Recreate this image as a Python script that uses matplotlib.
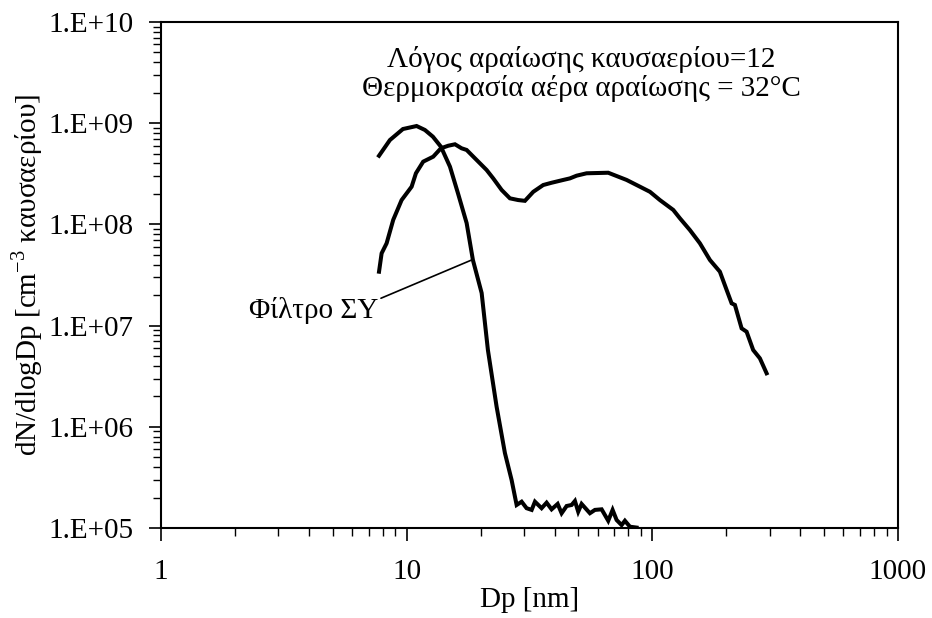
import numpy as np
import matplotlib
matplotlib.use('Agg')
import matplotlib.pyplot as plt
from matplotlib.ticker import FixedLocator, FuncFormatter, LogLocator, NullFormatter

plt.rcParams['font.family'] = ['Liberation Serif', 'DejaVu Serif']
plt.rcParams['mathtext.fontset'] = 'custom'
plt.rcParams['mathtext.rm'] = 'Liberation Serif'

# filter curve (steep drop after ~11 nm)
filt_dp = [7.72, 8.55, 9.66, 10.98, 11.87, 12.79, 13.79, 15.01, 16.17, 17.55,
           18.61, 20.20, 21.42, 23.24, 25.12, 26.75, 27.6, 28.04,
           29.38, 30.78, 32.28, 33.29, 35.43, 37.13, 38.91, 41.18, 42.74,
           44.80, 46.95, 48.42, 49.93, 51.54, 55.72, 58.40, 62.19, 66.16,
           68.93, 71.57, 74.99, 77.35, 81.08, 86.3]
filt_n = [4.77e8, 6.82e8, 8.76e8, 9.38e8, 8.57e8, 7.36e8, 5.86e8, 3.72e8, 2.04e8, 1.03e8,
          4.45e7, 2.10e7, 5.74e6, 1.58e6, 5.51e5, 2.98e5, 2.04e5, 1.69e5,
          1.82e5, 1.57e5, 1.51e5, 1.82e5, 1.57e5, 1.78e5, 1.53e5, 1.73e5, 1.40e5,
          1.65e5, 1.69e5, 1.85e5, 1.45e5, 1.73e5, 1.40e5, 1.51e5, 1.53e5, 1.18e5,
          1.51e5, 1.20e5, 1.07e5, 1.18e5, 1.03e5, 1.01e5]

# second curve (peak ~15 nm, accumulation mode ~60 nm)
raw_dp = [7.72, 7.91, 8.29, 8.82, 9.54, 10.48, 10.91, 11.68, 12.83, 13.79,
          14.77, 15.73, 16.74, 17.55, 18.97, 21.16, 22.51, 24.36, 26.33, 28.46,
          30.30, 32.77, 35.97, 38.91, 43.39, 46.21, 49.19, 54.02, 66.16, 78.6,
          89.0, 97.8, 107.4, 121.7, 129.5, 142.2, 156.2, 171.6, 188.4, 200.7,
          210.3, 216.9, 230.9, 242.0, 257.4, 274.1, 291.9]
raw_n = [3.41e7, 5.18e7, 6.51e7, 1.11e8, 1.74e8, 2.36e8, 3.20e8, 4.17e8, 4.67e8, 5.65e8,
         5.99e8, 6.19e8, 5.65e8, 5.44e8, 4.50e8, 3.45e8, 2.85e8, 2.19e8, 1.81e8, 1.74e8,
         1.71e8, 2.10e8, 2.45e8, 2.58e8, 2.75e8, 2.85e8, 3.03e8, 3.20e8, 3.24e8, 2.75e8,
         2.36e8, 2.10e8, 1.74e8, 1.39e8, 1.15e8, 8.80e7, 6.51e7, 4.45e7, 3.41e7, 2.25e7,
         1.66e7, 1.60e7, 9.40e6, 8.70e6, 5.74e6, 4.75e6, 3.38e6]

yticks = [1e5, 1e6, 1e7, 1e8, 1e9, 1e10]
xticks = [1, 10, 100, 1000]

fig = plt.figure(figsize=(9.32, 6.18), dpi=100)
ax = fig.add_axes([0.1727, 0.1456, 0.7908, 0.8188])

ax.plot(filt_dp, filt_n, color='black', lw=2.9, solid_joinstyle='miter')
ax.plot(raw_dp, raw_n, color='black', lw=2.9, solid_joinstyle='miter')

ax.set_xscale('log')
ax.set_yscale('log')
ax.set_xlim(1, 1000)
ax.set_ylim(1e5, 1e10)

ax.yaxis.set_major_locator(FixedLocator(yticks))
ax.yaxis.set_major_formatter(FuncFormatter(lambda v, p: '1.E+%02d' % round(np.log10(v))))
ax.yaxis.set_minor_locator(LogLocator(base=10, subs=np.arange(2, 10)))
ax.yaxis.set_minor_formatter(NullFormatter())
ax.xaxis.set_major_locator(FixedLocator(xticks))
ax.xaxis.set_major_formatter(FuncFormatter(lambda v, p: '%d' % v))
ax.xaxis.set_minor_locator(LogLocator(base=10, subs=np.arange(2, 10)))
ax.xaxis.set_minor_formatter(NullFormatter())

ax.tick_params(which='major', direction='out', length=9, width=1.2, labelsize=21, pad=11)
ax.tick_params(which='minor', direction='out', length=6, width=1.0)
ax.tick_params(axis='x', which='major', pad=13)
for s in ax.spines.values():
    s.set_linewidth(1.5)

ax.set_xlabel('Dp [nm]', fontsize=21, labelpad=2)
ax.set_ylabel('dN/dlogDp [cm$^{-3}$ καυσαερίου]', fontsize=21, labelpad=2)

ax.text(0.57, 0.897, 'Λόγος αραίωσης καυσαερίου=12\nΘερμοκρασία αέρα αραίωσης = 32°C',
        transform=ax.transAxes, ha='center', va='center', fontsize=21, linespacing=1.1)

ax.annotate('Φίλτρο ΣΥ', xy=(18.67, 4.52e7), xytext=(7.66, 1.93e7),
            ha='right', va='top', fontsize=21,
            arrowprops=dict(arrowstyle='-', relpos=(1, 0.9), shrinkA=0, shrinkB=0,
                            lw=1.2, color='black'))

fig.savefig('out.png', dpi=100)
